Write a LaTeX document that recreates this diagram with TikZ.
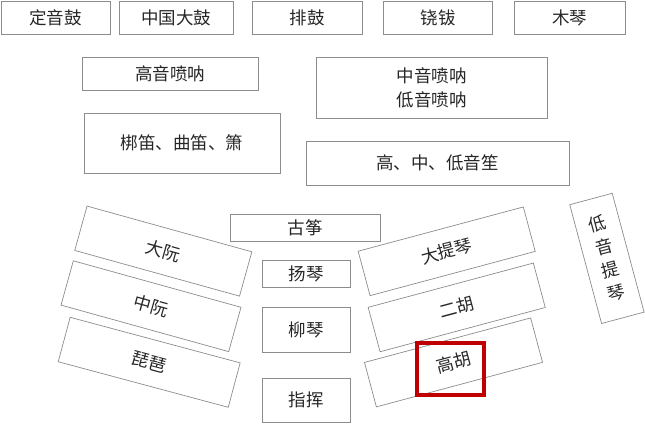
\documentclass[tikz,border=0pt]{standalone}
\usepackage{tikz}
\usepackage{xcolor}
\usepackage{fontspec}
\newfontfamily\cjk{Noto Sans CJK SC}
\definecolor{markred}{RGB}{192,0,0}

\tikzset{
  seat/.style={rectangle, draw=gray!90, line width=0.7pt, inner sep=0pt,
    text=black!85, align=center, font=\cjk\fontsize{17.5}{24}\selectfont},
  markbox/.style={rectangle, draw=markred, line width=4pt, inner sep=0pt}
}

\begin{document}
\begin{tikzpicture}[x=1pt,y=-1pt]
\useasboundingbox (0,0) rectangle (645,424);

\node [seat, minimum width=109pt, minimum height=33pt]
       (dingyingu) at (55.5,18) {定音鼓};
\node [seat, minimum width=114pt, minimum height=33pt]
       (dagu) at (176,18) {中国大鼓};
\node [seat, minimum width=110pt, minimum height=33pt]
       (paigu) at (307,18) {排鼓};
\node [seat, minimum width=109pt, minimum height=33pt]
       (naobo) at (438,18) {铙钹};
\node [seat, minimum width=111pt, minimum height=33pt]
       (muqin) at (569.5,18) {木琴};

\node [seat, minimum width=176pt, minimum height=33pt]
       (gaosuona) at (170,73.5) {高音喷呐};
\node [seat, minimum width=231pt, minimum height=61pt]
       (zhongsuona) at (431.5,87.5) {中音喷呐\\低音喷呐};
\node [seat, minimum width=196pt, minimum height=60pt]
       (dizi) at (182,143) {梆笛、曲笛、箫};
\node [seat, minimum width=263pt, minimum height=44pt]
       (sheng) at (437.5,163) {高、中、低音笙};

\node [seat, minimum width=150pt, minimum height=27pt]
       (guzheng) at (305,227.5) {古筝};
\node [seat, minimum width=88pt, minimum height=27pt]
       (yangqin) at (306,273.5) {扬琴};
\node [seat, minimum width=88pt, minimum height=45pt]
       (liuqin) at (306,329.5) {柳琴};
\node [seat, minimum width=88pt, minimum height=44pt]
       (zhihui) at (306,400) {指挥};

\node [seat, rotate=-15.5, minimum width=171pt, minimum height=46pt]
       (daruan) at (163.3,251.1) {大阮};
\node [seat, rotate=-15.5, minimum width=174pt, minimum height=46pt]
       (zhongruan) at (151,306.2) {中阮};
\node [seat, rotate=-15, minimum width=176pt, minimum height=46pt]
       (pipa) at (149.2,362.3) {琵琶};

\node [seat, rotate=15, minimum width=171pt, minimum height=46pt]
       (datiqin) at (446.7,251.3) {大提琴};
\node [seat, rotate=15, minimum width=171pt, minimum height=46pt]
       (erhu) at (456.7,307.4) {二胡};
\node [seat, rotate=15, minimum width=172pt, minimum height=46pt]
       (gaohu) at (453.5,362.4) {高胡};
\node [seat, rotate=15, minimum width=44pt, minimum height=123pt]
       (diyintiqin) at (606.9,258.4) {低\\音\\提\\琴};

\node [markbox, minimum width=67pt, minimum height=52pt]
       (mark) at (450.8,368.5) {};
\end{tikzpicture}
\end{document}
